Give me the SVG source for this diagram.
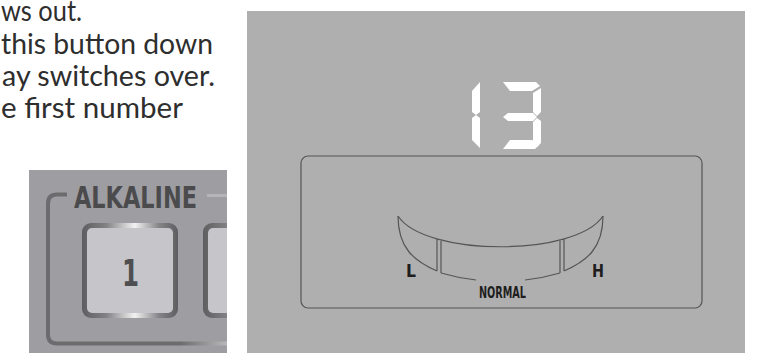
<svg xmlns="http://www.w3.org/2000/svg" width="761" height="353" viewBox="0 0 761 353">
<defs>
<style>
.body{font-family:Lato,"Open Sans","Noto Sans",sans-serif;font-size:28px;fill:#2e2e2e}
.cond{font-family:"Liberation Sans Narrow","DejaVu Sans Condensed","Liberation Sans",sans-serif;font-weight:bold}
.lcd{fill:none;stroke:#555;stroke-width:1.2}
.seg{fill:#ffffff}
.lbl{fill:#1e1e1e;font-size:18px}
</style>
<linearGradient id="metal" x1="0" y1="0" x2="1" y2="0">
<stop offset="0" stop-color="#5e5e60"/>
<stop offset="0.25" stop-color="#828285"/>
<stop offset="0.55" stop-color="#f2f2f2"/>
<stop offset="0.8" stop-color="#858588"/>
<stop offset="1" stop-color="#5e5e60"/>
</linearGradient>
<linearGradient id="bottomLine" gradientUnits="userSpaceOnUse" x1="180" y1="0" x2="227" y2="0">
<stop offset="0" stop-color="#6c6c6e"/>
<stop offset="1" stop-color="#b8b8ba"/>
</linearGradient>
<clipPath id="photoClip"><rect x="29" y="170" width="198" height="183"/></clipPath>
</defs>
<rect width="761" height="353" fill="#ffffff"/>

<g id="text">
<text class="body" x="1" y="21" textLength="81" lengthAdjust="spacingAndGlyphs">ws out.</text>
<text class="body" x="1" y="54" textLength="212" lengthAdjust="spacingAndGlyphs">this button down</text>
<text class="body" x="2" y="86" textLength="213" lengthAdjust="spacingAndGlyphs">ay switches over.</text>
<text class="body" x="1" y="118" textLength="182" lengthAdjust="spacingAndGlyphs">e first number</text>
</g>

<g id="photo" clip-path="url(#photoClip)">
<rect x="29" y="170" width="198" height="183" fill="#9e9ea2"/>
<path d="M67,194.5 H57 Q48,194.5 48,203.5 V334.5 Q48,343.5 57,343.5 H180" fill="none" stroke="#6c6c6e" stroke-width="4"/>
<path d="M180,343.5 H228" fill="none" stroke="url(#bottomLine)" stroke-width="4"/>
<path d="M207,195.5 H228" fill="none" stroke="#b5b5b7" stroke-width="3"/>
<text class="cond" x="74" y="208" font-size="30" fill="#4b4b4d" textLength="123" lengthAdjust="spacingAndGlyphs">ALKALINE</text>
<g id="button1">
<rect x="82" y="223" width="96" height="95" rx="9" fill="url(#metal)"/>
<rect x="87" y="228" width="86" height="85" rx="5" fill="#c5c5ca"/>
<text class="cond" x="122" y="286" font-size="38" fill="#4f4f51" textLength="17" lengthAdjust="spacingAndGlyphs">1</text>
</g>
<g id="button2">
<rect x="203" y="223" width="96" height="95" rx="9" fill="url(#metal)"/>
<rect x="208" y="228" width="86" height="85" rx="5" fill="#c5c5ca"/>
</g>
</g>

<g id="display">
<rect x="247" y="11" width="498" height="342" fill="#afafaf"/>
<g id="digits">
<polygon class="seg" points="472,91 480,82 480,112 476,115 472,112"/>
<polygon class="seg" points="472,118 476,115 480,118 480,148 472,140"/>
<polygon class="seg" points="503,82 536,82 540,86 532,91 510,91"/>
<polygon class="seg" points="541,88 541,112 537,116 533,112 533,93"/>
<polygon class="seg" points="503,117 508,113 533,113 537,117 533,121 508,121"/>
<polygon class="seg" points="541,121 541,143 537,147 533,144 533,122 537,118"/>
<polygon class="seg" points="503,149 535,149 539,145 532,140 510,140"/>
</g>
<rect class="lcd" x="301" y="156" width="401" height="152" rx="7" stroke-width="1.3"/>
<g id="gauge">
<path class="lcd" d="M398,216 C425,257 576,257 603,216"/>
<path class="lcd" d="M398,216 C398,248 414,261 437,271"/>
<path class="lcd" d="M603,216 C603,248 587,261 564,271"/>
<path class="lcd" d="M437,239 V271"/>
<path class="lcd" d="M564,239 V271"/>
<path class="lcd" d="M441,241 V273"/>
<path class="lcd" d="M560,241 V273"/>
<path class="lcd" d="M441,273 Q458,278 476,280"/>
<path class="lcd" d="M525,280 Q543,278 560,273"/>
</g>
<text class="cond lbl" x="406" y="277" textLength="10" lengthAdjust="spacingAndGlyphs">L</text>
<text class="cond lbl" x="592" y="277" textLength="12" lengthAdjust="spacingAndGlyphs">H</text>
<text class="cond" x="479" y="298" font-size="15" fill="#1e1e1e" textLength="47" lengthAdjust="spacingAndGlyphs">NORMAL</text>
</g>
</svg>
